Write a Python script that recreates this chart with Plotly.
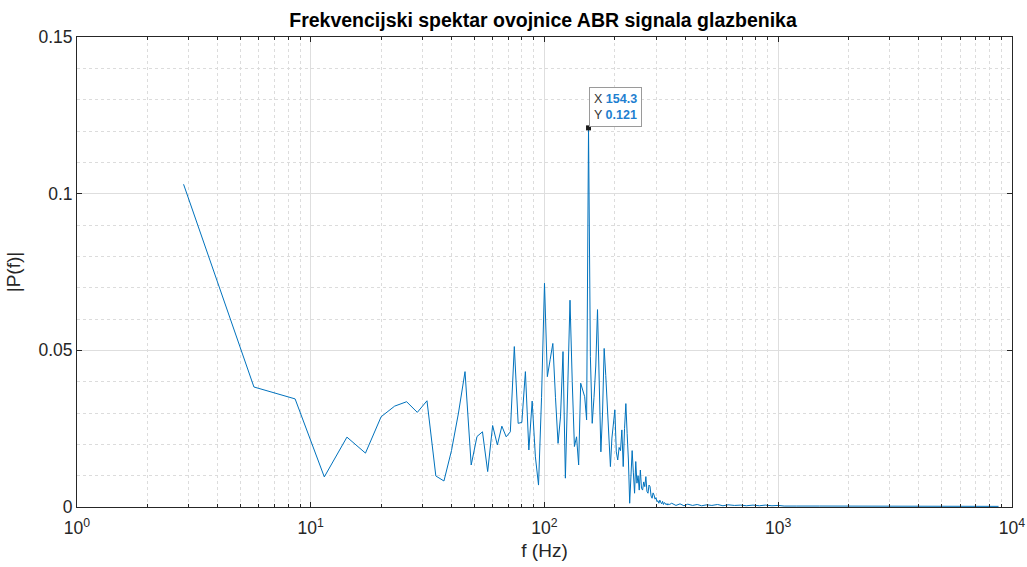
import math
import plotly.graph_objects as go

# ---- data ----
DF = 2.857  # frequency resolution (Hz) of the FFT bins
spectrum_low = [
    0.1030, 0.0383, 0.0345, 0.0096, 0.0223, 0.0172, 0.0288, 0.0322, 0.0336, 0.0302,
    0.0339, 0.0099, 0.0083, 0.0180, 0.0300, 0.0432, 0.0134, 0.0225, 0.0240, 0.0113,
    0.0260, 0.0198, 0.0258, 0.0224, 0.0240, 0.0512, 0.0267, 0.0270, 0.0432, 0.0182,
    0.0338, 0.0160, 0.0070, 0.0350, 0.0714, 0.0416, 0.0470, 0.0522, 0.0350, 0.0203,
    0.0290, 0.0496, 0.0092, 0.0340, 0.0660, 0.0400, 0.0193, 0.0224, 0.0134, 0.0395,
    0.0370, 0.0352, 0.0278, 0.1210, 0.0480, 0.0267, 0.0350, 0.0450, 0.0630, 0.0400,
    0.0176, 0.0300, 0.0506, 0.0420, 0.0330, 0.0214, 0.0129, 0.0220, 0.0260, 0.0310,
    0.0176, 0.0150, 0.0190, 0.0180, 0.0246, 0.0129, 0.0250, 0.0330, 0.0235, 0.0150,
    0.0012, 0.0120, 0.0180, 0.0109, 0.0044, 0.0145, 0.0076, 0.0100, 0.0054, 0.0118,
    0.0060, 0.0054, 0.0080, 0.0065, 0.0097, 0.0050, 0.0044, 0.0070, 0.0065, 0.0035,
    0.0028, 0.0045, 0.0038, 0.0025, 0.0030, 0.0017, 0.0020, 0.0012, 0.0022, 0.0015,
    0.0010, 0.0018, 0.0008, 0.0014, 0.0012, 0.0007, 0.0011, 0.0006, 0.0010, 0.0008,
]
freq_low = [DF * (i + 1) for i in range(len(spectrum_low))]

tail_freq = [350, 365, 380, 395, 410, 430, 450, 470, 495, 520, 550, 580, 610, 650,
             690, 730, 780, 830, 880, 940, 1000, 1060, 1120, 1200, 1500, 2000, 3000,
             5000, 8760]
tail_vals = [0.0012, 0.0005, 0.0010, 0.0004, 0.0009, 0.0005, 0.0008, 0.0004, 0.0007,
             0.0005, 0.0008, 0.0004, 0.0007, 0.0005, 0.0006, 0.0004, 0.0006, 0.0004,
             0.0006, 0.0004, 0.0005, 0.0003, 0.0004, 0.0003, 0.0003, 0.0003, 0.0002,
             0.0002, 0.0002]

tip_x = 154.3
tip_y = 0.121

x_tickvals = [1, 10, 100, 1000, 10000]
x_ticktext = ["10<sup>0</sup>", "10<sup>1</sup>", "10<sup>2</sup>", "10<sup>3</sup>", "10<sup>4</sup>"]
y_tickvals = [0, 0.05, 0.1, 0.15]
y_ticktext = ["0", "0.05", "0.1", "0.15"]

title = "Frekvencijski spektar ovojnice ABR signala glazbenika"
x_label = "f (Hz)"
y_label = "|P(f)|"

LINE = "#0072BD"
FONT = "Liberation Sans, Arial, sans-serif"
W, H = 1027, 567

fig = go.Figure()
fig.add_trace(go.Scatter(
    x=freq_low + tail_freq, y=spectrum_low + tail_vals,
    mode="lines", line=dict(color=LINE, width=1), hoverinfo="skip", showlegend=False,
))
fig.add_trace(go.Scatter(
    x=[tip_x], y=[tip_y], mode="markers",
    marker=dict(symbol="square", size=5, color="#1a1a1a"),
    showlegend=False, hoverinfo="skip",
))

fig.add_annotation(
    x=math.log10(tip_x), y=tip_y, xref="x", yref="y",
    text=("X <span style='color:#1f7fd0'><b>154.3</b></span><br>"
          "Y <span style='color:#1f7fd0'><b>0.121</b></span>"),
    showarrow=False, xanchor="left", yanchor="bottom", align="left",
    xshift=0, yshift=1,
    font=dict(family=FONT, size=12.5, color="#333333"),
    bgcolor="white", bordercolor="#9a9a9a", borderwidth=1, borderpad=4,
)

axis_common = dict(
    showline=True, linecolor="#262626", linewidth=1, mirror="allticks",
    ticks="inside", ticklen=5, tickcolor="#262626",
    showgrid=True, gridcolor="#dedede", gridwidth=1,
    zeroline=False, automargin=False,
    tickfont=dict(family=FONT, size=17.5, color="#262626"),
)

fig.update_xaxes(
    type="log", range=[0, 4],
    tickmode="array", tickvals=x_tickvals, ticktext=x_ticktext,
    ticklabelstandoff=5,
    minor=dict(dtick="D1", ticks="inside", ticklen=3, tickcolor="#262626",
               showgrid=True, gridcolor="#dcdcdc", griddash="dot", gridwidth=1),
    title=dict(text=x_label, font=dict(family=FONT, size=19, color="#262626"), standoff=6),
    **axis_common,
)
fig.update_yaxes(
    range=[0, 0.15],
    tickmode="array", tickvals=y_tickvals, ticktext=y_ticktext,
    minor=dict(dtick=0.01, tick0=0, ticks="", showgrid=True,
               gridcolor="#dcdcdc", griddash="dot", gridwidth=1),
    title=dict(text=y_label, font=dict(family=FONT, size=19, color="#262626"), standoff=12),
    **axis_common,
)

fig.update_layout(
    width=W, height=H,
    margin=dict(l=77, r=15, t=37, b=60),
    paper_bgcolor="white", plot_bgcolor="white",
    title=dict(text="<b>" + title + "</b>", x=543 / W, xanchor="center",
               y=1 - 20 / H, yanchor="middle",
               font=dict(family=FONT, size=19.5, color="#000000")),
    showlegend=False,
)

fig.write_html(
    "out.html",
    config={"displayModeBar": False},
    post_script="document.body.style.margin='0';document.body.style.overflow='hidden';",
)
